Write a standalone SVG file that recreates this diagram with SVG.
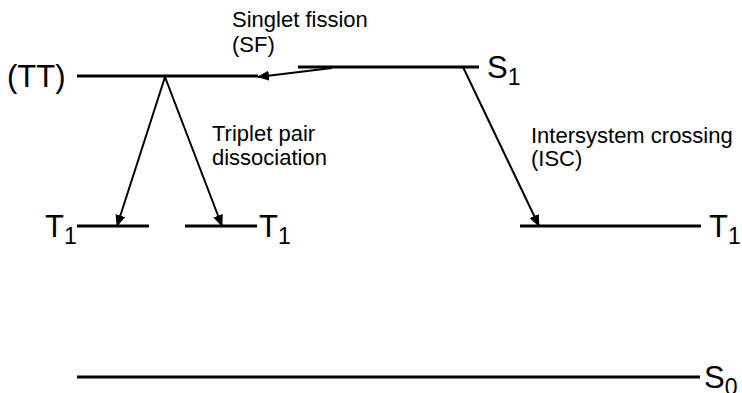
<svg xmlns="http://www.w3.org/2000/svg" width="742" height="393" viewBox="0 0 742 393">
<defs>
<style>
.lvl{stroke:#000;stroke-width:3;fill:none}
.arr{stroke:#000;stroke-width:2;fill:none;marker-end:url(#ah)}
.big{font-family:"Liberation Sans",Arial,sans-serif;font-size:31px;fill:#000}
.sub{font-size:23px}
.lab{font-family:"Liberation Sans",Arial,sans-serif;font-size:22px;fill:#000}
</style>
<marker id="ah" viewBox="0 0 12 10" refX="11" refY="5" markerWidth="12" markerHeight="10" markerUnits="userSpaceOnUse" orient="auto">
<path d="M0,0 L12,5 L0,10 Z" fill="#000"/>
</marker>
</defs>
<rect width="742" height="393" fill="#fff"/>
<g id="TT">
<line class="lvl" x1="77" y1="76" x2="258" y2="76"/>
<text class="big" x="7" y="87">(TT)</text>
</g>
<g id="S1">
<line class="lvl" x1="298" y1="67" x2="479" y2="67"/>
<text class="big" x="487" y="78">S<tspan class="sub" dy="7">1</tspan></text>
</g>
<g id="T1a">
<line class="lvl" x1="77" y1="226" x2="149" y2="226"/>
<text class="big" x="45" y="237">T<tspan class="sub" dy="7">1</tspan></text>
</g>
<g id="T1b">
<line class="lvl" x1="185" y1="226" x2="257" y2="226"/>
<text class="big" x="259" y="237">T<tspan class="sub" dy="7">1</tspan></text>
</g>
<g id="T1c">
<line class="lvl" x1="520" y1="226" x2="701" y2="226"/>
<text class="big" x="709" y="237">T<tspan class="sub" dy="7">1</tspan></text>
</g>
<g id="S0">
<line class="lvl" x1="77" y1="377" x2="700" y2="377"/>
<text class="big" x="704" y="388">S<tspan class="sub" dy="7">0</tspan></text>
</g>
<g id="connectors">
<line class="arr" x1="332" y1="68" x2="258" y2="77"/>
<line class="arr" x1="165" y1="77" x2="117" y2="226"/>
<line class="arr" x1="165" y1="77" x2="222" y2="226"/>
<line class="arr" x1="463" y1="67" x2="539" y2="226"/>
</g>
<g id="labels">
<text class="lab" x="232" y="27">Singlet fission</text>
<text class="lab" x="232" y="52">(SF)</text>
<text class="lab" x="212" y="141">Triplet pair</text>
<text class="lab" x="212" y="165">dissociation</text>
<text class="lab" x="531" y="143">Intersystem crossing</text>
<text class="lab" x="531" y="166">(ISC)</text>
</g>
</svg>
